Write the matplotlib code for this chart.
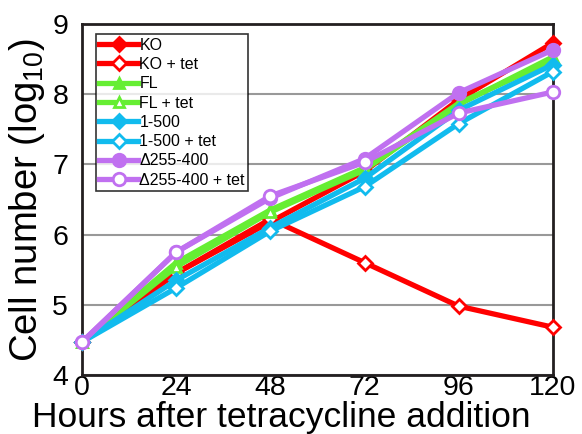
import matplotlib
matplotlib.use("Agg")
import matplotlib.pyplot as plt

plt.rcParams['font.family'] = ['Liberation Sans', 'DejaVu Sans']
plt.rcParams['mathtext.fontset'] = 'custom'
plt.rcParams['mathtext.rm'] = 'Liberation Sans'
plt.rcParams['mathtext.it'] = 'Liberation Sans'

# Data (log10 cell number)
hours = [0, 24, 48, 72, 96, 120]
ko = [4.47, 5.45, 6.18, 6.9, 7.92, 8.73]
ko_tet = [4.47, 5.45, 6.22, 5.6, 4.98, 4.68]
fl = [4.47, 5.6, 6.35, 6.95, 7.87, 8.48]
fl_tet = [4.47, 5.54, 6.32, 6.92, 7.85, 8.53]
d1_500 = [4.47, 5.35, 6.1, 6.8, 7.77, 8.42]
d1_500_tet = [4.47, 5.24, 6.05, 6.68, 7.58, 8.32]
d255 = [4.47, 5.75, 6.52, 7.08, 8.02, 8.63]
d255_tet = [4.47, 5.75, 6.55, 7.03, 7.73, 8.03]

red = '#ff0000'
green = '#66ee33'
cyan = '#11bbee'
purple = '#c070f0'

fig = plt.figure(figsize=(5.82, 4.34), dpi=100)
ax = fig.add_axes([0.141, 0.136, 0.809, 0.809])

lw = 3.8
series = [
    (ko, 'KO', red, 'D', True),
    (ko_tet, 'KO + tet', red, 'D', False),
    (fl, 'FL', green, '^', True),
    (fl_tet, 'FL + tet', green, '^', False),
    (d1_500, '1-500', cyan, 'D', True),
    (d1_500_tet, '1-500 + tet', cyan, 'D', False),
    (d255, 'Δ255-400', purple, 'o', True),
    (d255_tet, 'Δ255-400 + tet', purple, 'o', False),
]
for vals, label, col, mk, filled in series:
    ms = 9 if mk == 'o' else 7
    ax.plot(hours, vals, color=col, lw=lw, marker=mk, ms=ms,
            markerfacecolor=col if filled else 'white',
            markeredgecolor=col, markeredgewidth=2, label=label,
            clip_on=False, zorder=3)

ax.set_xlim(0, 120)
ax.set_ylim(4, 9)
ax.set_xticks(hours)
ax.set_yticks([4, 5, 6, 7, 8, 9])
ax.tick_params(length=0, labelsize=20.5, pad=0)
ax.tick_params(axis='y', pad=10)
ax.grid(axis='y', color='#999999', lw=1.5)
ax.set_axisbelow(True)
for s in ax.spines.values():
    s.set_color('#231f20')
    s.set_linewidth(2)

ax.set_xlabel('Hours after tetracycline addition', fontsize=25.5)
ax.xaxis.set_label_coords(0.422, -0.074)
ax.set_ylabel('Cell number (log$_{10}$)', fontsize=27.5, labelpad=4)

leg = ax.legend(loc='upper left', bbox_to_anchor=(0.03, 0.97), fontsize=11.5,
                frameon=True, fancybox=False, edgecolor='black',
                handlelength=2.4, handletextpad=0.1, labelspacing=0.27,
                borderpad=0.2, borderaxespad=0)
leg.get_frame().set_linewidth(1.2)

fig.savefig('out.png', dpi=100)
